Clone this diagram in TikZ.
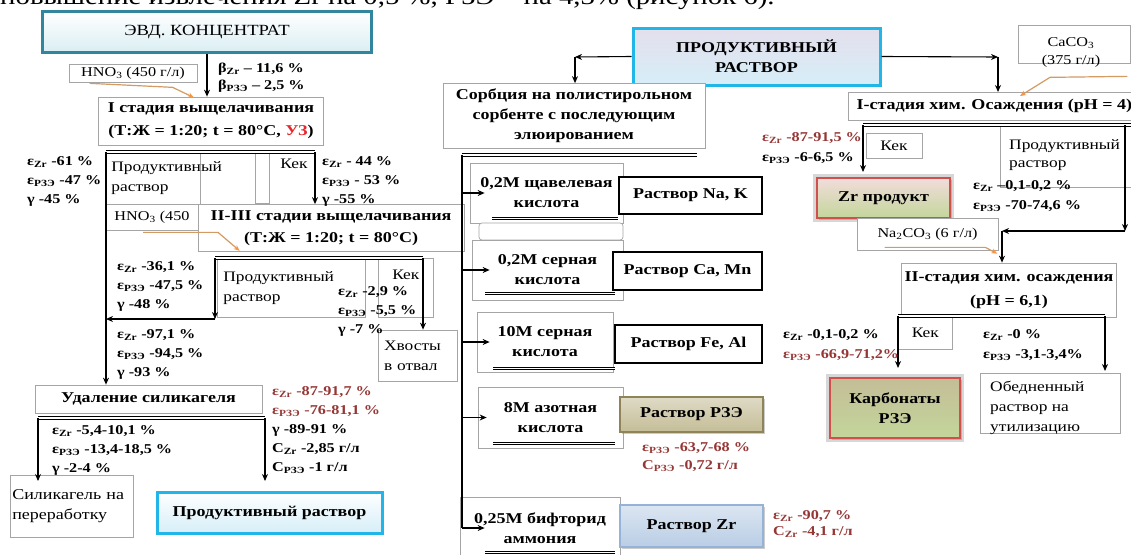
\documentclass[tikz,border=0pt]{standalone}
\usepackage{fontspec}
\setmainfont{Liberation Serif}[FakeStretch=1.2]
\usetikzlibrary{arrows.meta,positioning,calc,shadows}
\definecolor{FlowGray}{HTML}{A5A5A5}
\definecolor{FlowRed}{HTML}{953735}
\definecolor{FlowUZ}{HTML}{E8262B}
\definecolor{FlowHint}{HTML}{D39A64}
\definecolor{FlowHintTip}{HTML}{F79646}
\definecolor{FlowTeal}{HTML}{31859C}
\definecolor{FlowTealPale}{HTML}{DAEEF3}
\definecolor{FlowCyan}{HTML}{22B5E8}
\definecolor{FlowCyanPale}{HTML}{D6EEF8}
\definecolor{FlowLilac}{HTML}{E4DFEC}
\definecolor{FlowTan}{HTML}{C4BD97}
\definecolor{FlowTanEdge}{HTML}{8F8459}
\definecolor{FlowBlue}{HTML}{B9CDE5}
\definecolor{FlowBlueEdge}{HTML}{95B3D7}
\definecolor{FlowRose}{HTML}{D0504D}
\definecolor{FlowPink}{HTML}{F2DCDB}
\definecolor{FlowGreen}{HTML}{C3D69B}
\newcommand\bfnt{\fontsize{15}{20}\selectfont\bfseries}
\newcommand\lfnt{\fontsize{13.5}{19}\selectfont\bfseries}
\newcommand\rfnt{\fontsize{14.5}{20}\selectfont}
\newcommand\sfnt{\fontsize{13.5}{18}\selectfont}
\tikzset{
  box/.style={draw=FlowGray,fill=white,line width=.7pt,inner sep=3pt},
  res/.style={draw=black,fill=white,line width=1.6pt,font=\bfnt},
  lbl/.style={anchor=north west,align=left,inner sep=0pt,font=\lfnt},
  arr/.style={-{Stealth[length=7pt,width=6pt]},line width=1.1pt},
  dbl/.style={line width=1.1pt,double=white,double distance=1.4pt},
  hint/.style={draw=FlowHint,line width=1.2pt,-{Stealth[length=6pt,width=5pt,color=FlowHintTip]}},
  bevel/.style 2 args={draw=#1,line width=3pt,top color=white,bottom color=#2,
    drop shadow={shadow xshift=1.5pt,shadow yshift=-1.5pt,opacity=.4}},
  redbevel/.style 2 args={preaction={draw=FlowGray!45,line width=8pt},draw=FlowRose,line width=2pt,
    top color=#1,bottom color=#2,drop shadow={shadow xshift=2pt,shadow yshift=-2pt,opacity=.4}},
}
\begin{document}
\begin{tikzpicture}[x=1pt,y=-1pt]
\useasboundingbox (0,0) rectangle (1131,554);
\clip (0,0) rectangle (1131,554);
\node[anchor=base west,inner sep=0pt,font=\fontsize{24}{24}\selectfont] (head) at (0,5) {повышение извлечения Zr на 0,5 \%, РЗЭ – на 4,3\% (рисунок 6).};

% left branch: leaching
\node[bevel={FlowTeal}{FlowTealPale},minimum width=329pt,minimum height=41pt,font=\fontsize{15.5}{20}\selectfont] (conc) at (207,32) {ЭВД. КОНЦЕНТРАТ};
\node[box,minimum width=128pt,minimum height=18pt,inner sep=0pt,font=\sfnt] (hno1) at (133,73) {HNO\textsubscript{3} (450 г/л)};
\node[box,minimum width=225pt,minimum height=48pt,align=center,font=\bfnt] (st1) at (211,121) {I стадия выщелачивания\\[3pt](Т:Ж = 1:20; t = 80°C, \textcolor{FlowUZ}{УЗ})};
\node[box,anchor=north west,minimum width=94pt,minimum height=52pt,text width=84pt,inner sep=5pt,align=left,font=\rfnt] (prod1) at (106,152) {Продуктивный\\раствор};
\draw[box] (255,152) rectangle (269,203);
\node[font=\rfnt] (kek1) at (294,164) {Кек};
\node[box,minimum width=92pt,minimum height=26pt,font=\sfnt] (hno2) at (152,217) {HNO\textsubscript{3} (450};
\node[box,minimum width=266pt,minimum height=47pt,align=center,font=\bfnt] (st23) at (331,228) {II-III стадии выщелачивания\\[2pt](Т:Ж = 1:20; t = 80°C)};
\node[box,anchor=north west,minimum width=148pt,minimum height=59pt,text width=136pt,inner sep=6pt,align=left,font=\rfnt] (prod2) at (217,258) {Продуктивный\\раствор};
\node[box,anchor=north west,minimum width=55pt,minimum height=59pt] (kek2) at (378,258) {};
\node[font=\rfnt] (kek2t) at ($(kek2.north)+(0,17)$) {Кек};
\node[box,minimum width=79pt,minimum height=51pt,text width=67pt,align=left,font=\rfnt] (tail) at (417.5,355.5) {Хвосты\\в отвал};
\node[box,minimum width=227pt,minimum height=28pt,font=\bfnt] (udal) at (148.5,399) {Удаление силикагеля};
\node[box,anchor=north west,minimum width=123pt,minimum height=62pt,text width=119pt,inner xsep=2pt,align=left,font=\fontsize{15}{20}\selectfont] (sil) at (10,475) {Силикагель на\\переработку};
\node[bevel={FlowCyan}{FlowCyanPale},minimum width=225pt,minimum height=41pt,font=\bfnt] (prodF) at (269.5,512.5) {Продуктивный раствор};

\coordinate (s1l) at (106,152);
\coordinate (s1r) at (315,152);
\coordinate (s2l) at (215,258);
\coordinate (s2r) at (423,258);
\coordinate (c2) at (215,319);
\coordinate (s3l) at (38,418);
\coordinate (s3r) at (265,418);
\coordinate (e3l) at (38,481);
\coordinate (e3r) at (265,481);
\draw[arr] (conc.south) -- (conc.south |- st1.north);
\draw[dbl] (s1l) -- (s1r);
\draw[arr] (s1r) -- (s1r |- st23.north);
\draw[arr] (s1l) -- (s1l |- udal.north);
\draw[dbl] (s2l) -- (s2r);
\draw[arr] (s2l) -- (c2);
\draw[arr] (c2) -- (c2 -| s1l);
\draw[arr] (s2r) -- (s2r |- tail.north);
\draw[dbl] (s3l) -- (s3r);
\draw[arr] (s3l) -- (e3l);
\draw[arr] (s3r) -- (e3r);
\draw[hint] ($(hno1.south west)+(21,1)$) -- ++(83,4) -- ($(st1.north)+(-17,1)$);
\draw[hint] ($(hno2.south)+(-9,2)$) -- ++(75,0) -- ($(st23.south west)+(42,-1)$);

\node[lbl,font=\fontsize{13.5}{17}\selectfont\bfseries] (beta) at (218,63) {β\textsubscript{Zr} – 11,6 \%\\β\textsubscript{РЗЭ} – 2,5 \%};
\node[lbl] (l1) at (27,156) {ε\textsubscript{Zr} -61 \%\\ε\textsubscript{РЗЭ} -47 \%\\γ -45 \%};
\node[lbl] (r1) at (322,156) {ε\textsubscript{Zr} - 44 \%\\ε\textsubscript{РЗЭ} - 53 \%\\γ -55 \%};
\node[lbl] (l2) at (117,261) {ε\textsubscript{Zr} -36,1 \%\\ε\textsubscript{РЗЭ} -47,5 \%\\γ -48 \%};
\node[lbl] (l3) at (117,329) {ε\textsubscript{Zr} -97,1 \%\\ε\textsubscript{РЗЭ} -94,5 \%\\γ -93 \%};
\node[lbl] (r2) at (338,286) {ε\textsubscript{Zr} -2,9 \%\\ε\textsubscript{РЗЭ} -5,5 \%\\γ -7 \%};
\node[lbl] (l4) at (52,425) {ε\textsubscript{Zr} -5,4-10,1 \%\\ε\textsubscript{РЗЭ} -13,4-18,5 \%\\γ -2-4 \%};
\node[lbl] (r4) at (272,386) {\textcolor{FlowRed}{ε\textsubscript{Zr} -87-91,7 \%}\\\textcolor{FlowRed}{ε\textsubscript{РЗЭ} -76-81,1 \%}\\γ -89-91 \%\\C\textsubscript{Zr} -2,85 г/л\\C\textsubscript{РЗЭ} -1 г/л};

% middle branch: sorption
\node[bevel={FlowCyan}{FlowCyanPale},top color=FlowLilac,minimum width=247pt,minimum height=57pt,align=center,font=\bfnt] (pr) at (756.5,56.5) {ПРОДУКТИВНЫЙ\\РАСТВОР};
\node[box,minimum width=262pt,minimum height=65pt,align=center,font=\bfnt] (sorb) at (574,116) {Сорбция на полистирольном\\сорбенте с последующим\\элюированием};
\node[box,minimum width=153pt,minimum height=60pt,align=center,font=\bfnt] (a1) at (546.5,193) {0,2М щавелевая\\кислота};
\draw[box,rounded corners=3pt] (479,223) rectangle (623,240);
\node[box,minimum width=151pt,minimum height=60pt,align=center,font=\bfnt] (a2) at (547.5,270) {0,2М серная\\кислота};
\node[box,minimum width=136pt,minimum height=60pt,align=center,font=\bfnt] (a3) at (545,342) {10М серная\\кислота};
\node[box,minimum width=145pt,minimum height=61pt,align=center,font=\bfnt] (a4) at (550.5,417.5) {8М азотная\\кислота};
\node[box,minimum width=160pt,minimum height=62pt,align=center,font=\bfnt] (a5) at (540,528) {0,25М бифторид\\аммония};
\node[res,minimum width=143pt,minimum height=37pt] (n1) at (690.5,195.5) {Раствор Na, K};
\node[res,minimum width=149pt,minimum height=38pt] (n2) at (687.5,271) {Раствор Ca, Mn};
\node[res,minimum width=147pt,minimum height=38pt] (n3) at (688.5,344) {Раствор Fe, Al};
\node[bevel={FlowTanEdge}{FlowTan},line width=2pt,top color=FlowTan!55,minimum width=143pt,minimum height=35pt,font=\bfnt] (n4) at (691.5,414.5) {Раствор РЗЭ};
\node[bevel={FlowBlueEdge}{FlowBlue},line width=2pt,top color=FlowBlue!50,minimum width=143pt,minimum height=42pt,font=\bfnt] (n5) at (691.5,526) {Раствор Zr};

\coordinate (pl) at (575,57);
\coordinate (trunk) at (462,155);
\coordinate (s4r) at (697,155);
\coordinate (trunkend) at (462,528);
\draw[arr] (pr.west) -- (pl);
\draw[arr] (pl) -- (pl |- sorb.north);
\draw[dbl] (trunk) -- (s4r);
\draw[line width=1.1pt] (trunk) -- (trunkend);
\draw[arr] (a1.west -| trunk) -- ($(a1.west)+(15,0)$);
\draw[arr] (a2.west -| trunk) -- ($(a2.west)+(18,0)$);
\draw[arr] (a3.west -| trunk) -- ($(a3.west)+(13,0)$);
\draw[arr] (a4.west -| trunk) -- ($(a4.west)+(9,0)$);
\draw[arr] (a5.west -| trunk) -- ($(a5.west)+(25,0)$);
\draw[dbl] ($(a1.south)+(-54.5,-5)$) -- ($(a1.south)+(71.5,-5)$);
\draw[dbl] ($(a2.south)+(-62.5,-7)$) -- ($(a2.south)+(67.5,-7)$);
\draw[dbl] ($(a3.south)+(-52,-4)$) -- ($(a3.south)+(70,-4)$);
\draw[dbl] ($(a4.south)+(-57.5,-5)$) -- ($(a4.south)+(64.5,-5)$);
\draw[dbl] ($(a5.south)+(-55,-7)$) -- ($(a5.south)+(75,-7)$);

\node[lbl,font=\fontsize{13.5}{18}\selectfont\bfseries,text=FlowRed] (r5) at (642,442) {ε\textsubscript{РЗЭ} -63,7-68 \%\\C\textsubscript{РЗЭ} -0,72 г/л};
\node[lbl,font=\fontsize{13.5}{16}\selectfont\bfseries,text=FlowRed] (r6) at (773,510) {ε\textsubscript{Zr} -90,7 \%\\C\textsubscript{Zr} -4,1 г/л};

% right branch: precipitation
\node[box,minimum width=112pt,minimum height=38pt] (caco) at (1074,44) {};
\node[align=center,font=\sfnt] (cacot) at (1071,52) {CaCO\textsubscript{3}\\(375 г/л)};
\node[box,anchor=north west,minimum width=292pt,minimum height=28pt,font=\bfnt] (stc1) at (848,92) {I-стадия хим. Осаждения (pH = 4)};
\node[box,minimum width=56pt,minimum height=25pt,font=\rfnt] (kek3) at (894,145.5) {Кек};
\node[box,anchor=north west,minimum width=140pt,minimum height=62pt] (prod3) at (1000,125) {};
\node[anchor=north west,align=left,inner sep=0pt,font=\fontsize{14.5}{18}\selectfont] (prod3t) at (1009,139) {Продуктивный\\раствор};
\node[redbevel={FlowPink}{FlowGreen},minimum width=133pt,minimum height=40pt,font=\bfnt] (zrp) at (883.5,198) {Zr продукт};
\node[box,minimum width=141pt,minimum height=32pt,font=\sfnt] (na) at (927.5,234) {Na\textsubscript{2}CO\textsubscript{3} (6 г/л)};
\node[box,minimum width=212pt,minimum height=54pt,align=center,font=\bfnt] (stc2) at (1009,290) {II-стадия хим. осаждения\\[4pt](pH = 6,1)};
\node[box,anchor=north west,minimum width=54pt,minimum height=33pt,font=\rfnt] (kek4) at (898,316) {Кек};
\node[redbevel={FlowTan}{FlowGreen},minimum width=130pt,minimum height=60pt,align=center,font=\bfnt] (karb) at (895,408) {Карбонаты\\РЗЭ};
\node[box,anchor=north west,minimum width=140pt,minimum height=60pt] (obed) at (980,373) {};
\node[anchor=north west,align=left,inner sep=0pt,font=\rfnt] (obedt) at (990,381) {Обедненный\\раствор на\\утилизацию};

\coordinate (pr2) at (998,57);
\coordinate (s5l) at (863,125);
\coordinate (s5r) at (1125,125);
\coordinate (e5l) at (863,172);
\coordinate (c5a) at (1125,231);
\coordinate (c5b) at (1002,231);
\coordinate (s6l) at (898,316);
\coordinate (s6r) at (1105,316);
\coordinate (e6l) at (898,368);
\coordinate (e6r) at (1105,371);
\draw[arr] (pr.east) -- (pr2);
\draw[arr] (pr2) -- (pr2 |- stc1.north);
\draw[dbl] (s5l) -- ($(s5r)+(8,0)$);
\draw[arr] (s5l) -- (e5l);
\draw[arr] (s5r) -- (c5a);
\draw[arr] (c5a) -- (c5b);
\draw[arr] (c5b) -- (c5b |- stc2.north);
\draw[dbl] (s6l) -- (s6r);
\draw[arr] (s6l) -- (e6l);
\draw[arr] (s6r) -- (e6r);
\draw[hint] ($(caco.south east)+(-3,13)$) -- ($(caco.south)+(-24,14)$) -- ($(stc1.north west)+(172,4)$);
\draw[hint] ($(na.south west)+(28,-3)$) -- ($(na.south east)+(-13,-3)$) -- ($(stc2.north west)+(96,-9)$);

\node[lbl,font=\fontsize{13.5}{20}\selectfont\bfseries] (r7) at (762,132) {\textcolor{FlowRed}{ε\textsubscript{Zr} -87-91,5 \%}\\ε\textsubscript{РЗЭ} -6-6,5 \%};
\node[lbl,font=\fontsize{13.5}{20}\selectfont\bfseries] (r8) at (973,180) {ε\textsubscript{Zr} –0,1-0,2 \%\\ε\textsubscript{РЗЭ} -70-74,6 \%};
\node[lbl,font=\fontsize{13.5}{20}\selectfont\bfseries] (r9) at (783,329) {ε\textsubscript{Zr} -0,1-0,2 \%\\\textcolor{FlowRed}{ε\textsubscript{РЗЭ} -66,9-71,2\%}};
\node[lbl,font=\fontsize{13.5}{20}\selectfont\bfseries] (r10) at (983,329) {ε\textsubscript{Zr} -0 \%\\ε\textsubscript{РЗЭ} -3,1-3,4\%};
\end{tikzpicture}
\end{document}
